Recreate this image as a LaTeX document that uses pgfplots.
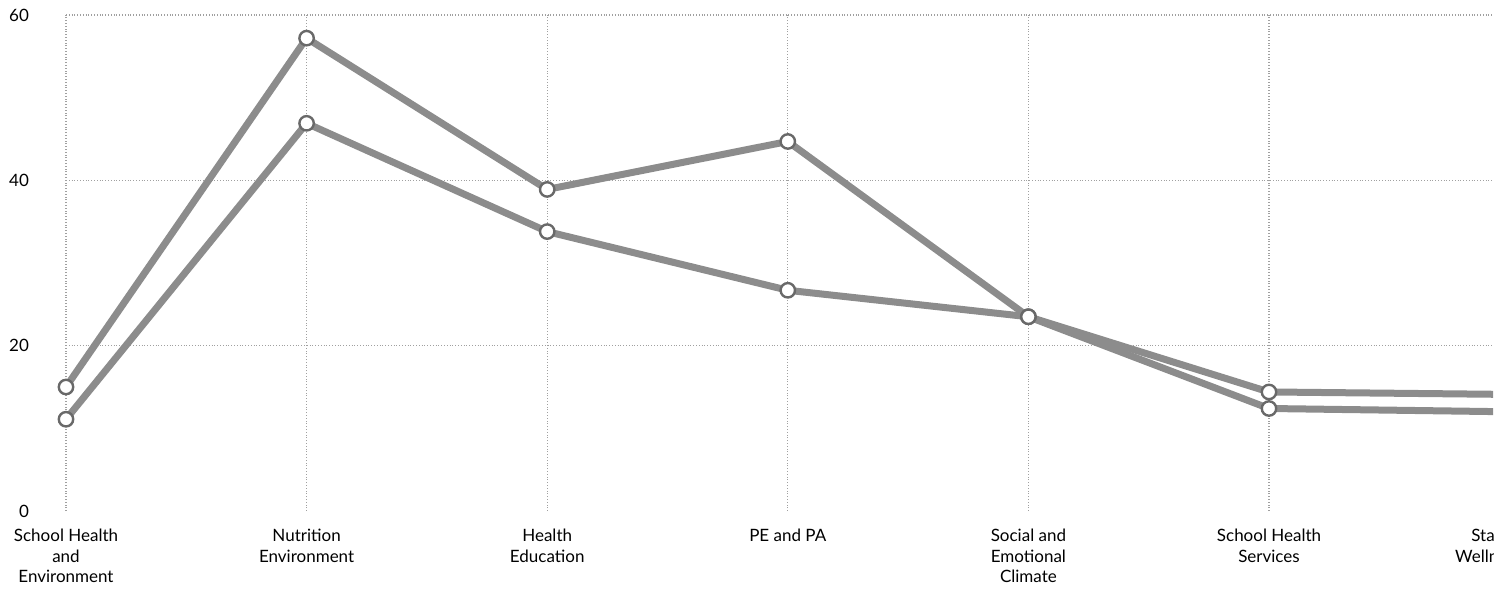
\documentclass[border=0pt]{standalone}
\usepackage{fontspec}
\setmainfont{Lato}
\usepackage{pgfplots}
\pgfplotsset{compat=1.18}
\definecolor{linegray}{RGB}{140,140,140}
\definecolor{markgray}{RGB}{105,105,105}
\definecolor{gridgray}{RGB}{160,160,160}
\begin{document}
\begin{tikzpicture}
\path[use as bounding box] (-33pt,-41.5pt) rectangle (721.5pt,255.5pt);
\clip (-33pt,-41.5pt) rectangle (713.5pt,255.5pt);
\begin{axis}[
  at={(0pt,0pt)}, anchor=south west,
  scale only axis, width=721.8pt, height=248pt,
  xmin=0, xmax=6, ymin=0, ymax=60,
  axis line style={draw=none},
  major tick length=0pt,
  xtick={0,1,2,3,4,5},
  xticklabels={School Health\\and\\Environment, Nutrition\\Environment, Health\\Education, PE and PA, Social and\\Emotional\\Climate, School Health\\Services},
  extra x ticks={6},
  extra x tick labels={Staff\\Wellness},
  extra x tick style={xticklabel style={xshift=-10.5pt}},
  ytick={20,40,60},
  extra y ticks={0},
  extra y tick style={grid=none},
  xmajorgrids, ymajorgrids,
  grid style={densely dotted, gridgray, line width=0.6pt},
  tick label style={font=\fontsize{8.5}{10.25}\selectfont, text=black},
  xticklabel style={align=center, yshift=-5.5pt},
  yticklabel style={xshift=-15pt},
  /pgf/number format/assume math mode=true,
]
\addplot[linegray, line width=3.5pt, mark=*, mark size=3.6pt,
  mark options={fill=white, draw=markgray, line width=1.2pt}]
  coordinates {(0,15.0) (1,57.2) (2,38.9) (3,44.7) (4,23.5) (5,14.4) (6,14.1)};
\addplot[linegray, line width=3.5pt, mark=*, mark size=3.6pt,
  mark options={fill=white, draw=markgray, line width=1.2pt}]
  coordinates {(0,11.1) (1,46.9) (2,33.8) (3,26.7) (4,23.5) (5,12.4) (6,12.0)};
\end{axis}
\end{tikzpicture}
\end{document}
